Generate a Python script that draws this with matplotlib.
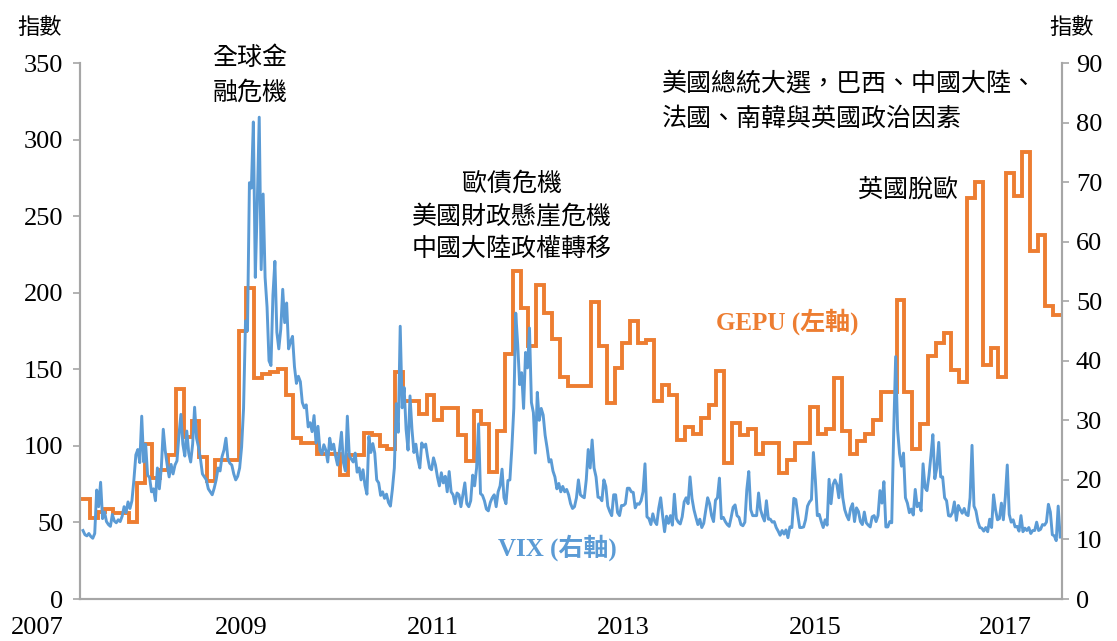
import numpy as np
import matplotlib.pyplot as plt

# GEPU monthly index (left axis), Jan 2007 - May 2017
gepu = [65, 53, 57, 59, 56, 56, 50.5, 76, 101, 79,
        84, 94, 137, 106, 116, 93, 77, 91, 91, 91,
        175, 203, 144, 147, 148, 150, 133, 105, 102, 102,
        95, 95, 95, 81, 94, 94, 108.6, 107, 100, 98,
        148, 129, 129, 121, 133, 117, 125, 125, 107, 90,
        123, 114, 83, 110, 160, 214, 190, 165, 205, 187,
        170, 145, 139, 139, 139, 194, 165, 128, 151, 167,
        181.5, 167, 169, 129, 140, 133, 104, 112, 108, 118,
        127, 149, 88.6, 114.7, 107, 111, 95, 102, 102, 82.5,
        90.8, 102, 102, 125.6, 108, 111, 144, 110, 95, 103,
        108, 117, 135, 135, 195, 135, 98, 114, 159, 167,
        174, 149.5, 142, 262, 272.5, 153, 164, 145, 278, 263,
        292, 227, 238, 191, 185.5]

# VIX (right axis), about weekly readings, one row per month
vix = [
    11.5, 10.8, 10.6, 11.0,   10.5, 10.2, 11.0, 18.3,   15.5, 19.6, 13.5, 14.6,
    13.0, 12.5, 12.2, 14.2,   13.1, 12.8, 13.3, 13.0,   13.9, 15.5, 14.5, 16.3,
    15.2, 16.5, 20.0, 24.2,   25.1, 22.9, 30.7, 23.0,   26.0, 20.8, 20.4, 18.0,
    18.5, 16.5, 22.0, 18.5,   22.0, 28.5, 24.9, 22.5,   20.5, 22.6, 21.0, 22.5,
    23.2, 27.5, 31.0, 26.0,   24.0, 28.2, 24.5, 23.0,   26.0, 32.2, 27.0, 25.5,
    23.5, 21.0, 20.5, 20.0,   18.5, 18.0, 17.5, 18.6,   20.0, 22.0, 21.5, 23.9,
    25.0, 27.0, 23.5, 22.8,   22.5, 21.0, 20.0, 20.6,   22.0, 25.5, 32.0, 46.7,
    45.0, 69.9, 69.0, 80.1,   54.0, 66.3, 80.9, 55.3,   68.0, 54.0, 49.0, 40.0,
    39.2, 51.0, 56.7, 44.8,   42.0, 45.3, 52.0, 46.4,   49.7, 42.0, 43.2, 44.1,
    39.0, 36.2, 37.4, 36.5,   33.0, 32.1, 32.6, 28.9,   29.6, 28.1, 30.8, 26.2,
    29.0, 25.0, 24.3, 25.9,   25.0, 23.0, 27.0, 25.1,   26.0, 24.0, 22.5, 25.0,
    28.0, 22.9, 21.5, 30.7,   24.0, 23.5, 23.0, 24.5,   21.3, 22.0, 20.0, 21.7,
    19.1, 17.6, 27.3, 24.6,   26.1, 24.5, 20.0, 19.5,   17.4, 18.0, 16.9, 17.6,
    16.2, 15.6, 18.4, 22.0,   32.8, 28.0, 45.8, 32.1,   35.5, 28.5, 25.0, 34.1,
    28.5, 24.6, 26.0, 23.5,   22.0, 26.2, 25.5, 26.0,   23.8, 22.0, 21.7, 23.7,
    22.5, 20.5, 19.0, 21.2,   19.5, 20.6, 18.0, 21.4,   18.0, 17.5, 16.0, 17.8,
    17.5, 15.5, 17.5, 19.5,   16.0, 15.5, 16.5, 20.8,   19.0, 22.0, 29.4, 17.7,
    17.4, 16.5, 15.1, 14.8,   16.2, 17.0, 17.5, 15.5,   18.0, 19.0, 21.8, 17.0,
    16.0, 19.9, 20.0, 25.3,   32.0, 48.0, 42.7, 36.0,   38.0, 32.0, 41.4, 38.8,
    45.5, 33.0, 31.3, 24.5,   34.7, 30.0, 32.0, 30.9,   27.5, 25.4, 23.0, 23.4,
    21.5, 20.5, 18.5, 19.4,   18.0, 18.9, 18.0, 18.4,   17.5, 16.0, 15.2, 15.5,
    17.0, 20.0, 17.5, 17.2,   17.0, 20.0, 25.1, 22.0,   26.7, 22.0, 20.5, 17.1,
    17.0, 16.5, 20.0, 18.9,   15.6, 14.7, 14.0, 17.5,   17.5, 14.5, 14.0, 15.7,
    15.7, 16.0, 18.6, 18.6,   18.0, 17.9, 15.3, 16.0,   15.9, 16.5, 18.0, 22.7,
    13.8, 13.5, 12.5, 14.3,   13.0, 12.5, 15.2, 17.0,   14.0, 11.3, 13.9, 12.7,
    14.0, 12.4, 17.6, 13.5,   12.9, 12.6, 13.8, 16.3,   17.0, 16.0, 20.5, 16.9,
    15.0, 13.7, 12.5, 13.4,   12.0, 12.7, 14.9, 17.0,   16.0, 14.0, 13.0, 16.6,
    17.0, 20.3, 13.5, 13.7,   13.0, 12.5, 12.2, 13.7,   15.4, 15.8, 14.0, 13.7,
    12.5, 12.3, 12.9, 18.4,   21.4, 15.0, 14.0, 14.0,   14.0, 17.8, 15.0, 13.9,
    13.1, 16.5, 13.4, 13.4,   12.9, 13.0, 12.0, 11.4,   10.7, 11.5, 10.9, 11.6,
    10.3, 12.1, 12.0, 16.9,   16.7, 14.2, 12.0, 12.0,   12.1, 13.3, 15.6, 16.3,
    16.7, 24.6, 20.0, 14.0,   14.2, 13.0, 12.0, 13.3,   12.4, 20.1, 16.0, 19.2,
    20.0, 19.2, 17.0, 20.9,   17.0, 15.0, 14.0, 13.3,   15.2, 16.0, 13.0, 15.3,
    14.7, 13.0, 12.5, 14.6,   12.8, 12.4, 12.1, 13.8,   14.0, 13.0, 14.0, 18.2,
    16.1, 19.7, 12.1, 12.1,   13.0, 12.8, 28.0, 40.7,   28.4, 24.4, 22.3, 24.5,
    17.0, 16.1, 14.5, 15.1,   14.1, 18.4, 15.5, 16.1,   14.8, 22.7, 18.7, 18.2,
    20.7, 24.0, 27.6, 20.2,   22.0, 26.3, 20.5, 20.5,   17.0, 16.5, 14.0, 13.9,
    14.5, 16.3, 13.2, 15.7,   15.0, 14.4, 15.2, 14.2,   14.0, 17.0, 25.8, 15.6,
    14.8, 13.0, 12.0, 11.9,   11.4, 12.0, 11.3, 13.4,   12.0, 17.5, 15.0, 13.3,
    13.5, 16.1, 13.3, 17.1,   22.5, 14.2, 12.9, 13.3,   12.1, 12.2, 11.4, 14.0,
    11.3, 11.9, 11.5, 12.0,   11.0, 11.5, 11.5, 12.9,   11.5, 11.7, 12.5, 12.4,
    12.9, 15.9, 14.6, 10.8,   10.6, 9.8, 15.6, 10.4,
]

year_labels = ['2007', '2009', '2011', '2013', '2015', '2017']
year_label_pos = [2006.52, 2008.69, 2010.73, 2012.755, 2014.80, 2016.82]

orange = '#ED7D31'
blue = '#5B9BD5'
grey = '#A6A6A6'
serif = ['Liberation Serif', 'Noto Sans CJK TC']
cjk = ['Noto Sans CJK TC', 'Liberation Serif']

x_end = 2017.426
gx = np.append(2007 + np.arange(len(gepu)) / 12.0, x_end)
gy = np.append(gepu, gepu[-1])
vx = 2007 + (np.arange(len(vix)) + 0.5) / 48.0

fig = plt.figure(figsize=(11.17, 6.41), dpi=100)
ax = fig.add_axes([80 / 1117, 42 / 641, 982 / 1117, 536 / 641])
ax2 = ax.twinx()

ax.plot(gx, gy, drawstyle='steps-post', color=orange, lw=2.8, solid_joinstyle='miter')
ax2.plot(vx, vix, color=blue, lw=2.1)

ax.set_xlim(2007 - 2 / 94, x_end)
ax.set_ylim(0, 350)
ax2.set_ylim(0, 90)
ax.set_yticks(range(0, 351, 50))
ax2.set_yticks(range(0, 91, 10))
ax.set_xticks([])

for a in (ax, ax2):
    a.spines['top'].set_visible(False)
    for s in ('left', 'right', 'bottom'):
        a.spines[s].set_color(grey)
        a.spines[s].set_linewidth(1.5)
ax.tick_params(axis='y', direction='out', length=5, width=1.2, color=grey, pad=7)
ax2.tick_params(axis='y', direction='out', length=5, width=1.2, color=grey, pad=5)
for lab in ax.get_yticklabels() + ax2.get_yticklabels():
    lab.set_fontfamily(serif)
    lab.set_fontsize(19)

for lab, p in zip(year_labels, year_label_pos):
    ax.text(p, -0.054, lab, transform=ax.get_xaxis_transform(), ha='center', va='center',
            fontsize=19, family=serif, clip_on=False)

fig.text(40 / 1117, 1 - 28 / 641, '指數', ha='center', va='center', fontsize=16,
         family=cjk, fontweight='light')
fig.text(1072 / 1117, 1 - 28 / 641, '指數', ha='center', va='center', fontsize=16,
         family=cjk, fontweight='light')

ax.text(2008.787, 342, '全球金\n融危機', ha='center', va='center', fontsize=18,
        family=cjk, fontweight='light', linespacing=1.42, clip_on=False)
ax.text(2011.574, 250, '歐債危機\n美國財政懸崖危機\n中國大陸政權轉移', ha='center', va='center',
        fontsize=18, family=cjk, fontweight='light', linespacing=1.33)
ax.text(2013.17, 325, '美國總統大選，巴西、中國大陸、\n法國、南韓與英國政治因素', ha='left', va='center',
        fontsize=18, family=cjk, fontweight='light', linespacing=1.5)
ax.text(2015.787, 267, '英國脫歐', ha='center', va='center', fontsize=18,
        family=cjk, fontweight='light')
ax.text(2014.50, 181, 'GEPU (左軸)', ha='center', va='center', fontsize=18, family=serif,
        fontweight='bold', color=orange)
ax.text(2012.053, 33.3, 'VIX (右軸)', ha='center', va='center', fontsize=18, family=serif,
        fontweight='bold', color=blue)

fig.savefig('out.png', dpi=100)
